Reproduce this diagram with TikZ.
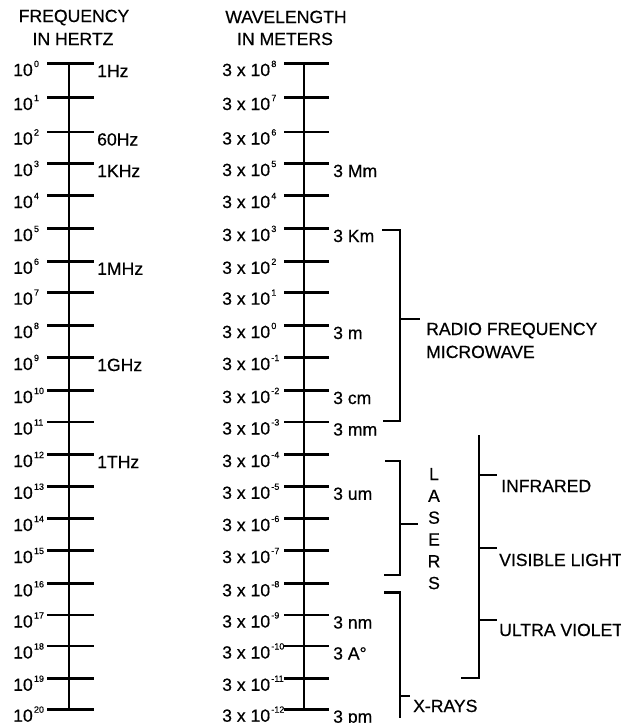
\documentclass[tikz,border=0pt]{standalone}
\usepackage{fontspec}
\setmainfont{Liberation Sans}[FakeBold=0.5]
\newcommand\pw[1]{\kern1.2pt\raisebox{9pt}{\fontsize{9}{9}\selectfont#1}}
\begin{document}
\begin{tikzpicture}[x=1pt,y=-1pt,
  axisln/.style={line width=2.7pt},
  tickln/.style={line width=2.7pt},
  brk/.style={line width=2.4pt},
  lbl/.style={font=\fontsize{17.6}{17.6}\selectfont, inner sep=0pt, anchor=base west},
  hdr/.style={font=\fontsize{17.6}{17.6}\selectfont, inner sep=0pt, anchor=base},
]
\useasboundingbox (0,0) rectangle (621,723);
\clip (0,0) rectangle (621,723);
\fill[white] (0,0) rectangle (621,723);

% headers
\node[hdr] (h1) at (74,22) {FREQUENCY};
\node[hdr] (h2) at (73,45) {IN HERTZ};
\node[hdr] (h3) at (286,23) {WAVELENGTH};
\node[hdr] (h4) at (285,45) {IN METERS};

% ticks and scale labels
\foreach \i/\y in {0/63.5,1/97.5,2/132,3/163.5,4/195.5,5/228.5,6/261.3,7/292.2,
  8/325.5,9/357.5,10/390.5,11/422,12/454.5,13/486.3,14/518.5,15/550.5,
  16/583.8,17/615,18/646,19/678.3,20/709.2} {
  \coordinate (fa\i) at (47,\y);
  \coordinate (fb\i) at (94,\y);
  \draw[tickln] (fa\i) -- (fb\i);
  \coordinate (wa\i) at (284,\y);
  \coordinate (wb\i) at (329,\y);
  \draw[tickln] (wa\i) -- (wb\i);
  \pgfmathtruncatemacro\e{8-\i}
  \node[lbl] (fl\i) at (13,\y+12.5) {10\pw{\i}};
  \node[lbl] (wl\i) at (222,\y+12.5) {3 x 10\pw{\e}};
}

% vertical axes
\coordinate (ftop) at (69,63.5);
\coordinate (fbot) at (69,709.2);
\coordinate (wtop) at (304,63.5);
\coordinate (wbot) at (304,709.2);
\draw[axisln] (ftop) -- (fbot);
\draw[axisln] (wtop) -- (wbot);

% frequency names
\foreach \i/\t in {0/1Hz,2/60Hz,3/1KHz,6/1MHz,9/1GHz,12/1THz}
  \node[lbl] (fn\i) at ([shift={(3,13.5)}]fb\i) {\t};

% wavelength names
\foreach \i/\t in {3/3 Mm,5/3 Km,8/3 m,10/3 cm,11/3 mm,13/3 um,17/3 nm,18/3 A°,20/3 pm}
  \node[lbl] (wn\i) at ([shift={(4,13.5)}]wb\i) {\t};

% radio frequency bracket
\coordinate (r1) at (382,230);
\coordinate (r2) at (400,230);
\coordinate (r3) at (400,421);
\coordinate (r4) at (383,421);
\coordinate (rm) at (400,319);
\coordinate (rt) at (420,319);
\draw[brk] (r1) -- (r2) -- (r3) -- (r4);
\draw[brk] (rm) -- (rt);
\node[lbl] (radio) at (426,335) {RADIO FREQUENCY};
\node[lbl] (micro) at (426,358) {MICROWAVE};

% lasers bracket
\coordinate (l1) at (385,461);
\coordinate (l2) at (400,461);
\coordinate (l3) at (400,575);
\coordinate (l4) at (384,575);
\coordinate (lm) at (400,524);
\coordinate (lt) at (418,524);
\draw[brk] (l1) -- (l2) -- (l3) -- (l4);
\draw[brk] (lm) -- (lt);
\node[font=\fontsize{17.6}{21.8}\selectfont, inner sep=0pt, anchor=north, align=center]
  (lasers) at (434,467.8) {L\\A\\S\\E\\R\\S};

% x-ray bracket
\coordinate (x1) at (384,592.5);
\coordinate (x2) at (400,592.5);
\coordinate (x3) at (400,718);
\coordinate (xm) at (400,696);
\coordinate (xt) at (410,696);
\draw[brk] (x1) -- (x2) -- (x3);
\draw[brk] (xm) -- (xt);
\node[lbl] (xrays) at (413,712) {X-RAYS};

% optical bracket
\coordinate (o1) at (479,435);
\coordinate (o2) at (479,678);
\coordinate (o3) at (461,678);
\draw[brk] (o1) -- (o2) -- (o3);
\coordinate (oi) at (479,475);
\coordinate (oit) at (497,475);
\coordinate (ov) at (479,548);
\coordinate (ovt) at (497,548);
\coordinate (ou) at (479,620);
\coordinate (out) at (497,620);
\draw[brk] (oi) -- (oit);
\draw[brk] (ov) -- (ovt);
\draw[brk] (ou) -- (out);
\node[lbl] (ir) at (501,492) {INFRARED};
\node[lbl] (vis) at (499,566) {VISIBLE LIGHT};
\node[lbl] (uv) at (499,636) {ULTRA VIOLET};
\end{tikzpicture}
\end{document}
